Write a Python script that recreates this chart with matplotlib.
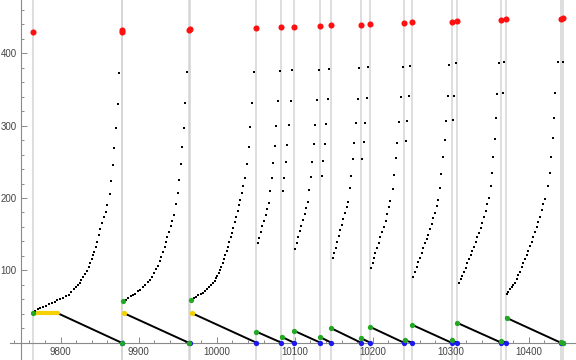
import matplotlib.pyplot as plt
from matplotlib.ticker import FixedLocator

plt.rcParams['font.family'] = ['Liberation Sans', 'DejaVu Sans']

# event times (vertical gray lines) and the peak value at each event
events = [9764, 9878, 9879, 9964, 9966, 10051, 10083, 10099, 10133, 10147,
          10185, 10197, 10240, 10251, 10301, 10308, 10365, 10371, 10441, 10444]
peak = [429, 430, 432, 432, 433, 434.5, 436, 436, 437.7, 438.7,
        438.7, 440, 441.5, 442.8, 442.8, 444.2, 445.6, 447, 447, 448.4]

# start markers (green) and end markers (blue)
green_t = [9764, 9878, 9880, 9964, 9967, 10051, 10084, 10099, 10133, 10147,
           10185, 10197, 10241, 10251, 10301, 10308, 10365, 10372, 10441, 10444]
green_v = [40.6, 0, 57.6, 0, 59.0, 15.2, 8.3, 16.6, 7.5, 19.9,
           6.1, 21.7, 3.7, 24.5, 3.7, 27.6, 2.8, 34.6, 1.4, 0]
blue_t = events[1:]
blue_v = [0] * len(blue_t)

# yellow plateau of the first cycle and yellow start points
plateau_t = [9764, 9796.5]
plateau_v = [40.6, 40.6]
yellow_t = [9881.5, 9968.7]
yellow_v = [40.6, 40.6]

# descending branches: start -> zero at end
low_start_t = [9796.5, 9881.5, 9968.7, 10051, 10083, 10099, 10133, 10147, 10185,
               10197, 10240, 10251, 10301, 10308, 10365, 10371, 10441]
low_start_v = [40.6, 40.6, 40.6, 15.2, 8.3, 16.6, 7.5, 19.9, 6.1,
               21.7, 3.7, 24.5, 3.7, 27.6, 2.8, 34.6, 1.4]
low_end_t = [9878, 9964, 10051, 10083, 10099, 10133, 10147, 10185, 10197,
             10240, 10251, 10301, 10308, 10365, 10371, 10441, 10444]

# rising branches (sampled points)
upper_t = [
    # cycle 1
    9766.7, 9770.3, 9774.0, 9777.6, 9781.2, 9784.9, 9788.5, 9792.1, 9795.8, 9799.4,
    9803.0, 9806.7, 9810.3, 9813.6, 9816.7, 9820.0, 9822.2, 9824.4, 9826.4,
    9829.0, 9831.5, 9834.1, 9835.9, 9837.9, 9839.7, 9841.4, 9843.1, 9844.9, 9846.5,
    9848.7, 9850.8, 9852.9, 9855.5, 9857.7, 9859.7, 9862.8, 9864.1, 9867.1, 9868.3,
    9870.9, 9873.4, 9874.7,
    # cycle 2
    9883.1, 9886.3, 9889.5, 9892.7, 9895.9, 9899.1, 9902.3, 9905.5, 9908.7, 9911.9,
    9914.5, 9917.0, 9919.6, 9922.2, 9924.8, 9927.3, 9929.2, 9931.2, 9933.1, 9935.0,
    9936.9, 9938.8, 9940.8, 9942.7, 9945.2, 9947.8, 9950.0, 9951.7, 9954.2, 9955.5,
    9957.7, 9959.4, 9962.3,
    # cycle 3
    9970.9, 9973.5, 9976.4, 9979.5, 9982.0, 9984.6, 9987.2, 9989.7, 9992.3, 9994.9,
    9997.4, 9999.1, 10000.8, 10002.6, 10004.2, 10005.9, 10007.7, 10009.4, 10011.0, 10012.8,
    10014.5, 10016.2, 10017.9, 10019.6, 10021.3, 10023.1, 10024.7, 10026.9, 10028.6, 10030.3,
    10032.1, 10034.1, 10036.9, 10038.8, 10040.8, 10042.7, 10045.2, 10047.6,
    # cycle 4
    10052.6, 10053.8, 10056.4, 10058.1, 10060.6, 10062.8, 10064.5, 10066.7, 10068.3, 10070.9,
    10072.2, 10074.4, 10076.0, 10078.6, 10081.1,
    # cycle 5
    10084.6, 10086.3, 10088.5, 10090.1, 10092.3, 10095.2, 10096.5,
    # cycle 6
    10100.0, 10102.6, 10104.2, 10106.8, 10108.5, 10110.6, 10113.2, 10114.5, 10116.7, 10118.3,
    10120.9, 10122.2, 10124.8, 10126.0, 10128.6, 10131.2,
    # cycle 7
    10135.0, 10136.3, 10138.8, 10140.1, 10142.7, 10144.0,
    # cycle 8
    10148.7, 10150.4, 10152.6, 10154.2, 10156.4, 10158.1, 10160.3, 10161.9, 10164.1, 10166.7,
    10168.3, 10170.5, 10171.8, 10174.4, 10176.0, 10178.2, 10180.8, 10182.4,
    # cycle 9
    10185.9, 10188.4, 10189.7, 10192.7, 10194.0,
    # cycle 10
    10198.2, 10200.0, 10201.7, 10203.3, 10205.5, 10207.7, 10209.7, 10211.9, 10214.1, 10216.7,
    10218.3, 10220.5, 10222.6, 10225.6, 10227.3, 10229.5, 10231.2, 10233.7, 10236.9, 10238.4,
    # cycle 11
    10242.3, 10243.6, 10246.5, 10247.8,
    # cycle 12
    10252.0, 10254.2, 10256.4, 10258.4, 10260.6, 10262.8, 10264.9, 10267.0, 10269.2, 10271.3,
    10273.4, 10275.6, 10277.7, 10279.9, 10282.1, 10284.1, 10285.9, 10287.9, 10289.7, 10292.3,
    10293.6, 10296.5, 10297.8,
    # cycle 13
    10302.9, 10304.2, 10306.8,
    # cycle 14
    10310.2, 10312.8, 10314.8, 10317.0, 10319.2, 10321.3, 10323.4, 10325.6, 10327.7, 10329.9,
    10332.1, 10334.1, 10336.3, 10338.5, 10340.5, 10342.7, 10344.9, 10346.9, 10349.1, 10351.3,
    10352.9, 10354.6, 10356.4, 10358.1, 10359.7, 10361.5,
    # cycle 15
    10366.4, 10367.9,
    # cycle 16
    10371.8, 10373.8, 10376.0, 10378.2, 10380.2, 10382.4, 10384.6, 10386.6, 10388.8, 10391.0,
    10393.1, 10395.2, 10397.4, 10399.5, 10401.7, 10403.8, 10405.9, 10408.1, 10410.2, 10412.3,
    10414.5, 10416.7, 10418.7, 10420.9, 10424.1, 10427.3, 10428.8, 10430.5, 10432.4, 10434.3,
    10437.5,
    # cycle 17
    10443.3,
]
upper_v = [
    # cycle 1
    44.2, 46.0, 47.8, 49.6, 51.4, 53.2, 55.0, 56.9, 58.7, 60.5,
    62.3, 64.1, 65.9, 69.7, 73.8, 76.6, 79.7, 82.9, 86.7,
    91.2, 95.0, 99.5, 105.0, 110.6, 115.7, 121.2, 125.8, 131.9, 139.6,
    148.9, 156.7, 165.0, 173.3, 181.1, 189.9, 205.5, 223.9, 245.6, 269.5,
    296.7, 329.9, 373.2,
    # cycle 2
    59.7, 61.8, 63.9, 65.9, 68.0, 70.8, 73.5, 76.6, 79.7, 83.5,
    87.3, 91.5, 96.3, 101.2, 106.7, 112.9, 119.1, 125.4, 132.3, 139.2,
    146.1, 153.7, 161.3, 168.9, 176.5, 191.3, 207.3, 224.9, 246.6, 270.9,
    297.2, 331.7, 374.6,
    # cycle 3
    61.8, 63.6, 65.5, 66.9, 69.1, 71.9, 74.6, 77.4, 79.7, 82.1,
    85.3, 89.0, 92.2, 95.9, 100.5, 105.0, 110.6, 115.7, 121.2, 127.2,
    132.7, 139.6, 145.7, 152.0, 158.9, 166.4, 174.1, 182.4, 190.3, 197.2,
    207.3, 216.6, 227.6, 247.0, 271.2, 298.1, 332.0, 374.6,
    # cycle 4
    137.4, 145.1, 153.4, 161.7, 168.6, 176.9, 184.8, 193.5, 210.1, 228.1,
    248.8, 271.9, 299.9, 334.1, 375.9,
    # cycle 5
    210.1, 228.1, 250.2, 273.2, 300.9, 334.5, 376.9,
    # cycle 6
    129.5, 138.2, 146.5, 154.8, 161.7, 170.0, 177.9, 186.2, 194.5, 211.1,
    229.4, 250.2, 274.6, 301.3, 335.4, 376.9,
    # cycle 7
    230.4, 251.5, 274.6, 302.7, 336.8, 378.3,
    # cycle 8
    117.1, 124.4, 131.3, 139.6, 147.9, 155.3, 163.1, 171.4, 179.3, 188.0,
    194.9, 213.4, 230.4, 253.5, 276.4, 304.1, 337.2, 380.1,
    # cycle 9
    253.5, 277.8, 304.1, 338.2, 381.5,
    # cycle 10
    103.2, 109.7, 116.6, 123.6, 131.3, 138.2, 145.7, 152.6, 159.5, 168.2,
    177.9, 188.0, 195.8, 212.4, 231.8, 254.9, 276.4, 305.0, 340.0, 381.5,
    # cycle 11
    279.2, 306.8, 341.4, 382.9,
    # cycle 12
    91.2, 98.1, 105.0, 111.1, 117.5, 123.6, 130.5, 137.4, 142.9, 148.9,
    156.7, 164.1, 171.9, 179.7, 188.9, 197.2, 213.4, 233.2, 256.2, 280.2,
    306.4, 341.4, 383.8,
    # cycle 13
    307.8, 341.4, 386.2,
    # cycle 14
    82.1, 87.6, 92.2, 98.1, 103.7, 109.7, 115.7, 121.2, 127.2, 132.7,
    139.6, 145.7, 152.0, 158.9, 165.9, 174.1, 182.4, 191.7, 199.6, 216.6,
    235.0, 257.1, 281.1, 310.1, 343.7, 386.2,
    # cycle 15
    345.5, 388.0,
    # cycle 16
    67.3, 70.5, 73.8, 76.6, 79.7, 82.9, 87.6, 93.2, 98.1, 104.2,
    109.7, 115.3, 121.2, 127.2, 133.6, 139.6, 146.5, 152.6, 159.5, 167.2,
    174.1, 183.4, 191.7, 198.2, 216.6, 235.0, 257.1, 283.6, 310.6, 345.5,
    388.4,
    # cycle 17
    388.4,
]

fig = plt.figure(figsize=(5.76, 3.6), dpi=100)
ax = fig.add_axes([0, 0, 1, 1])

for t in events:
    ax.axvline(t, color='#d4d4d4', lw=1.1, zorder=0)

# descending branches
for t0, v0, t1 in zip(low_start_t, low_start_v, low_end_t):
    ax.plot([t0, t1], [v0, 0], color='black', lw=1.4, zorder=2)
ax.plot(plateau_t, plateau_v, color='black', lw=1.4, zorder=2)
ax.plot(plateau_t, plateau_v, color='#f5d000', lw=3.0, zorder=3,
        solid_capstyle='round')

ax.plot(upper_t, upper_v, 's', color='black', ms=1.6, mew=0, zorder=3)
ax.plot(yellow_t, yellow_v, 'o', color='#f5d000', ms=3.8, mew=0, zorder=4)
ax.plot(blue_t, blue_v, 'o', color='#1a1aee', ms=3.8, mew=0, zorder=4)
ax.plot(green_t, green_v, 'o', color='#22a822', ms=3.8, mew=0, zorder=5)
ax.plot(events, peak, 'o', color='#ff1010', ms=4.4, mew=0, zorder=5)

ax.set_xlim(9722.2, 10460.6)
ax.set_ylim(-23.9, 473.7)

ax.spines['top'].set_visible(False)
ax.spines['right'].set_visible(False)
ax.spines['left'].set_position(('data', 9748.7))
ax.spines['bottom'].set_position(('data', 0))
ax.spines['bottom'].set_bounds(9735, 10460.6)
for s in ('left', 'bottom'):
    ax.spines[s].set_color('#8a8a8a')
    ax.spines[s].set_linewidth(0.8)

ax.xaxis.set_major_locator(FixedLocator(list(range(9800, 10401, 100))))
ax.xaxis.set_minor_locator(FixedLocator([t for t in range(9740, 10461, 20) if t % 100]))
ax.yaxis.set_major_locator(FixedLocator([100, 200, 300, 400]))
ax.yaxis.set_minor_locator(FixedLocator([v for v in range(20, 461, 20) if v % 100]))

ax.tick_params(which='both', direction='in', color='#8a8a8a', width=0.7,
               labelsize=7, labelcolor='#444444', pad=3)
ax.tick_params(which='major', length=4)
ax.tick_params(which='minor', length=2.2)

fig.savefig('out.png', dpi=100)
